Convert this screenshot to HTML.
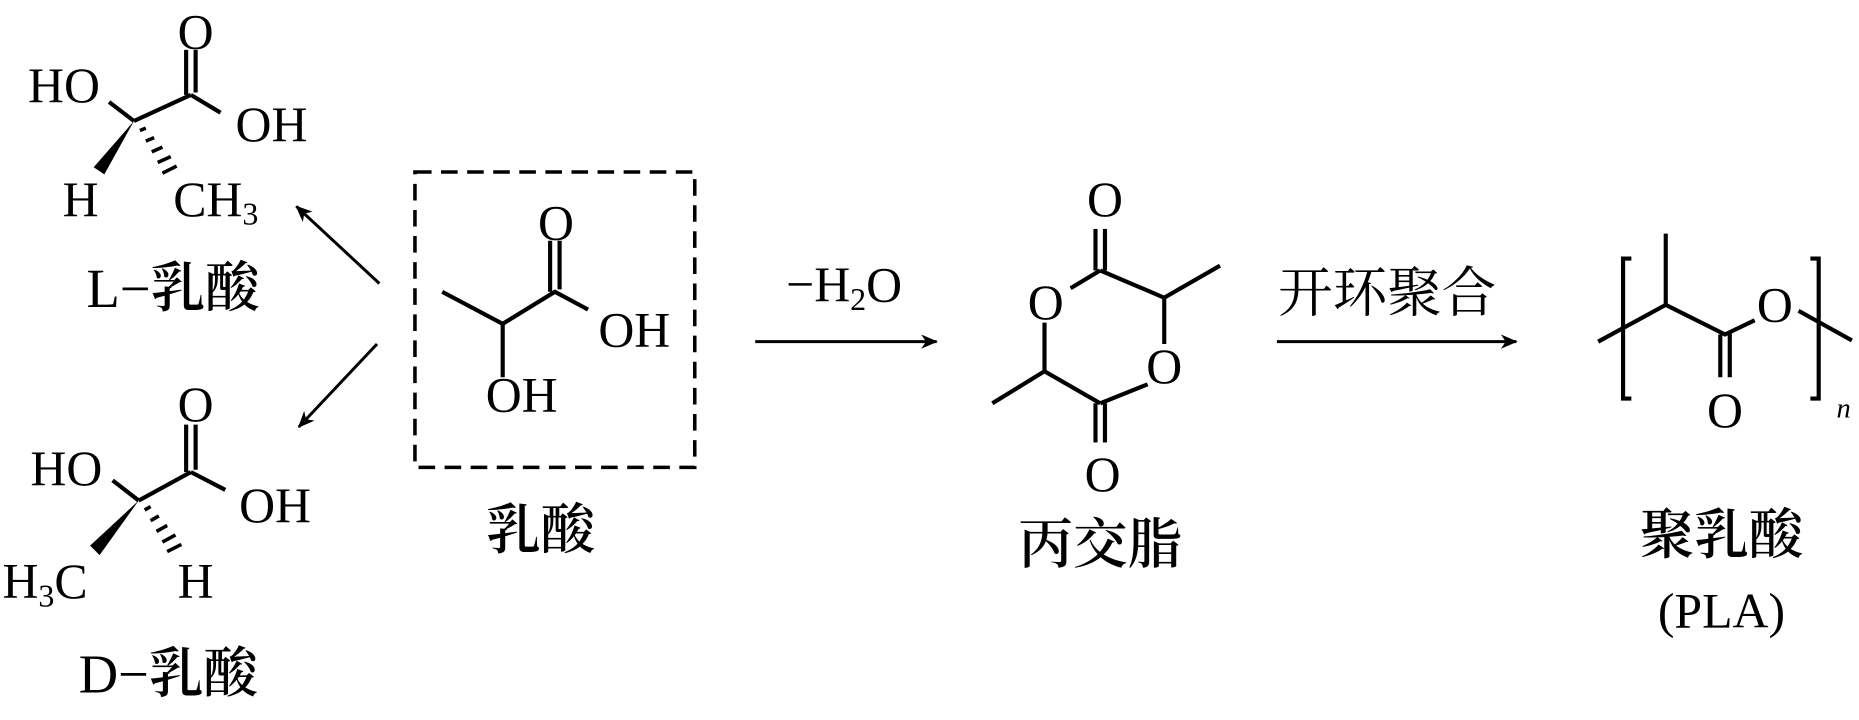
<!DOCTYPE html>
<html><head><meta charset="utf-8"><style>
html,body{margin:0;padding:0;background:#fff;}
svg{display:block;}
text{font-family:"Liberation Serif","Noto Serif CJK SC",serif;fill:#000;}
.c{font-family:"Liberation Serif","Noto Serif CJK SC","Noto Sans CJK SC",serif;font-weight:600;}
.n{font-weight:normal;}
</style></head><body>
<svg width="1859" height="720" viewBox="0 0 1568 607" preserveAspectRatio="none" xmlns="http://www.w3.org/2000/svg">
<defs>
<marker id="ah" markerWidth="14" markerHeight="14" refX="13" refY="7" orient="auto" markerUnits="userSpaceOnUse" viewBox="0 0 14 14">
<path d="M0,1 L14,7 L0,13 L4,7 Z" fill="#000"/></marker>
</defs>
<g stroke="#000" stroke-width="3.5" fill="none" stroke-linecap="butt">
<line x1="113" y1="102" x2="92" y2="86"/>
<line x1="113" y1="102" x2="161" y2="80"/>
<line x1="161" y1="80" x2="186" y2="95"/>
<line x1="157" y1="80" x2="157" y2="42"/><line x1="165" y1="78" x2="165" y2="42"/>
<line x1="117" y1="422" x2="95" y2="405"/>
<line x1="117" y1="422" x2="161" y2="398"/>
<line x1="161" y1="398" x2="190" y2="413"/>
<line x1="157" y1="398" x2="157" y2="358"/><line x1="165" y1="396" x2="165" y2="358"/>
<line x1="320" y1="239" x2="250" y2="174" marker-end="url(#ah)" stroke-width="2.5"/>
<line x1="318" y1="290" x2="252" y2="360" marker-end="url(#ah)" stroke-width="2.5"/>
<rect x="350" y="145" width="236" height="249" stroke-dasharray="14 8" stroke-width="3"/>
<polyline points="373,246 424,273 468,246 496,261"/>
<line x1="424" y1="273" x2="424" y2="318"/>
<line x1="464" y1="246" x2="464" y2="203"/><line x1="472" y1="244" x2="472" y2="203"/>
<line x1="637" y1="288" x2="790" y2="288" marker-end="url(#ah)" stroke-width="2.5"/>
<line x1="924" y1="228" x2="924" y2="193"/><line x1="932" y1="228" x2="932" y2="193"/>
<line x1="928" y1="228" x2="903" y2="243"/>
<line x1="928" y1="228" x2="982" y2="251"/>
<line x1="982" y1="251" x2="1029" y2="224"/>
<line x1="982" y1="251" x2="982" y2="290"/>
<line x1="968" y1="324" x2="928" y2="340"/>
<line x1="928" y1="340" x2="881" y2="313"/>
<line x1="881" y1="313" x2="837" y2="340"/>
<line x1="881" y1="313" x2="881" y2="272"/>
<line x1="924" y1="340" x2="924" y2="373"/><line x1="932" y1="340" x2="932" y2="373"/>
<line x1="1077" y1="288" x2="1279" y2="288" marker-end="url(#ah)" stroke-width="2.5"/>
<polyline points="1348,288 1405,257 1455,282 1480,270"/>
<line x1="1405" y1="257" x2="1405" y2="197"/>
<line x1="1451" y1="282" x2="1451" y2="318"/><line x1="1459" y1="280" x2="1459" y2="318"/>
<line x1="1517" y1="262" x2="1562" y2="287"/>
<polyline points="1376,218 1369,218 1369,336 1376,336"/>
<polyline points="1527,218 1534,218 1534,336 1527,336"/>
</g>
<polygon points="113,102 79,141 88,147" fill="#000"/>
<g stroke="#000" stroke-width="3">
<line x1="118" y1="110" x2="123" y2="108"/><line x1="123" y1="119" x2="130" y2="116"/>
<line x1="128" y1="128" x2="137" y2="124"/><line x1="133" y1="137" x2="144" y2="132"/>
<line x1="137" y1="146" x2="149" y2="140"/>
</g>
<polygon points="117,422 76,460 84,468" fill="#000"/>
<g stroke="#000" stroke-width="3">
<line x1="122" y1="430" x2="127" y2="427"/><line x1="127" y1="439" x2="134" y2="435"/>
<line x1="132" y1="448" x2="141" y2="443"/><line x1="137" y1="457" x2="148" y2="451"/>
<line x1="141" y1="465" x2="153" y2="459"/>
</g>
<g font-size="42" text-anchor="middle" dominant-baseline="central">
<text x="165" y="27">O</text>
<text x="54" y="72">HO</text>
<text x="229" y="105">OH</text>
<text x="68" y="168">H</text>
<text x="182" y="168">CH<tspan font-size="27" dy="12">3</tspan></text>
<text x="165" y="341">O</text>
<text x="56" y="395">HO</text>
<text x="232" y="426">OH</text>
<text x="38" y="490">H<tspan font-size="27" dy="12">3</tspan><tspan dy="-12">C</tspan></text>
<text x="165" y="490">H</text>
<text x="469" y="188">O</text>
<text x="535" y="278">OH</text>
<text x="440" y="333">OH</text>
<text x="712" y="240">−H<tspan font-size="27" dy="12">2</tspan><tspan dy="-12">O</tspan></text>
<text x="932" y="168">O</text>
<text x="882" y="255">O</text>
<text x="982" y="309">O</text>
<text x="930" y="400">O</text>
<text x="1497" y="257">O</text>
<text x="1455" y="346">O</text>
<text x="1452" y="515">(PLA)</text>
<text x="1555" y="345" font-size="24" font-style="italic">n</text>
</g>
<g class="c" font-size="46" text-anchor="middle" dominant-baseline="central">
<text x="146" y="243"><tspan class="n">L−</tspan>乳酸</text>
<text x="142" y="568"><tspan class="n">D−</tspan>乳酸</text>
<text x="456" y="447">乳酸</text>
<text x="928" y="459">丙交脂</text>
<text x="1170" y="247" class="n">开环聚合</text>
<text x="1452" y="451">聚乳酸</text>
</g>
</svg>
</body></html>
